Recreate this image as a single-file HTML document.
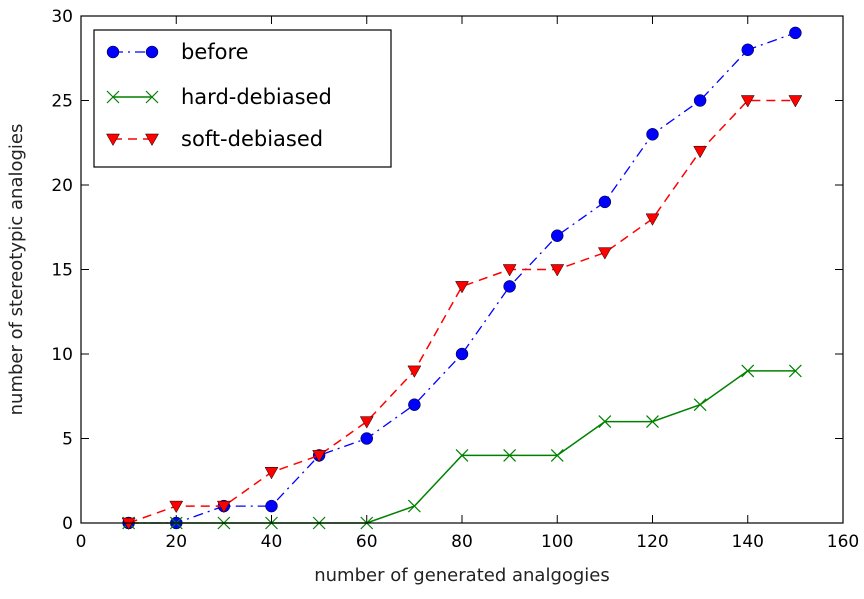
<!DOCTYPE html>
<html><head><meta charset="utf-8"><style>
body{margin:0;background:#fff}
text{font-family:"DejaVu Sans","Liberation Sans",sans-serif}
</style></head><body>
<svg id="chart" width="864" height="594" xmlns="http://www.w3.org/2000/svg"></svg>
<script>
const xValues=[10,20,30,40,50,60,70,80,90,100,110,120,130,140,150];
const beforeValues=[0,0,1,1,4,5,7,10,14,17,19,23,25,28,29];
const hardValues=[0,0,0,0,0,0,1,4,4,4,6,6,7,9,9];
const softValues=[0,1,1,3,4,6,9,14,15,15,16,18,22,25,25];
const xTicks=[0,20,40,60,80,100,120,140,160];
const yTicks=[0,5,10,15,20,25,30];
const L=81,R=843,T=16,B=523;
const sx=v=>L+(v-0)/160*(R-L);
const sy=v=>B-(v-0)/30*(B-T);
const svg=document.getElementById('chart');
const NS='http://www.w3.org/2000/svg';
function mk(tag,attrs,parent){const e=document.createElementNS(NS,tag);for(const k in attrs)e.setAttribute(k,attrs[k]);(parent||svg).appendChild(e);return e;}
xTicks.forEach(v=>{
 const g=mk('g',{});
 
 
 mk('line',{x1:sx(v),x2:sx(v),y1:B,y2:B-8,stroke:'#000'},g);
 mk('line',{x1:sx(v),x2:sx(v),y1:T,y2:T+8,stroke:'#000'},g);
 const t=mk('text',{x:sx(v),y:B+24,'text-anchor':'middle','font-size':17},g);t.textContent=v;
});
yTicks.forEach(v=>{
 const g=mk('g',{});
 
 
 mk('line',{x1:L,x2:L+8,y1:sy(v),y2:sy(v),stroke:'#000'},g);
 mk('line',{x1:R,x2:R-8,y1:sy(v),y2:sy(v),stroke:'#000'},g);
 const t=mk('text',{x:L-8,y:sy(v)+6,'text-anchor':'end','font-size':17},g);t.textContent=v;
});
const xt=mk('text',{x:(L+R)/2,y:581,'text-anchor':'middle','font-size':18,fill:'#222'});xt.textContent='number of generated analgogies';

const yt=mk('text',{x:0,y:0,'text-anchor':'middle','font-size':18,fill:'#222',transform:`translate(22,${(T+B)/2}) rotate(-90)`});yt.textContent='number of stereotypic analogies';

function circle(g,x,y,c){mk('circle',{cx:x,cy:y,r:6,fill:c,stroke:'#000','stroke-width':0.5},g);}
function cross(g,x,y,c){mk('path',{d:`M${x-6},${y-6}L${x+6},${y+6}M${x-6},${y+6}L${x+6},${y-6}`,stroke:c,'stroke-width':1.2,fill:'none'},g);}
function tri(g,x,y,c){mk('path',{d:`M${x-6.5},${y-5}L${x+6.5},${y-5}L${x},${y+6.5}Z`,fill:c,stroke:'#000','stroke-width':0.5},g);}
const series=[
 {name:'before',vals:beforeValues,color:'#0000ff',dash:'10,5,2,5',marker:circle,w:1.3},
 {name:'hard-debiased',vals:hardValues,color:'#008000',dash:'',marker:cross,w:1.5},
 {name:'soft-debiased',vals:softValues,color:'#ff0000',dash:'9,6',marker:tri,w:1.5}];
series.forEach(s=>{
 const g=mk('g',{});
 
 
 mk('polyline',{points:xValues.map((x,i)=>sx(x)+','+sy(s.vals[i])).join(' '),fill:'none',stroke:s.color,'stroke-width':s.w,'stroke-dasharray':s.dash},g);
 xValues.forEach((x,i)=>s.marker(g,sx(x),sy(s.vals[i]),s.color));
});
mk('rect',{x:L,y:T,width:R-L,height:B-T,fill:'none',stroke:'#000','stroke-width':1.2});
const lg=mk('g',{});


mk('rect',{x:94,y:30,width:297,height:137,fill:'#fff',stroke:'#000','stroke-width':1.2},lg);
const rows=[52,97,139];
series.forEach((s,i)=>{
 const e=mk('g',{},lg);
 
 
 mk('line',{x1:113,x2:152,y1:rows[i],y2:rows[i],stroke:s.color,'stroke-width':s.w,'stroke-dasharray':s.dash},e);
 s.marker(e,113,rows[i],s.color);s.marker(e,152,rows[i],s.color);
 const t=mk('text',{x:181,y:rows[i]+7,'font-size':21},e);t.textContent=s.name;
});
</script>
</body></html>
